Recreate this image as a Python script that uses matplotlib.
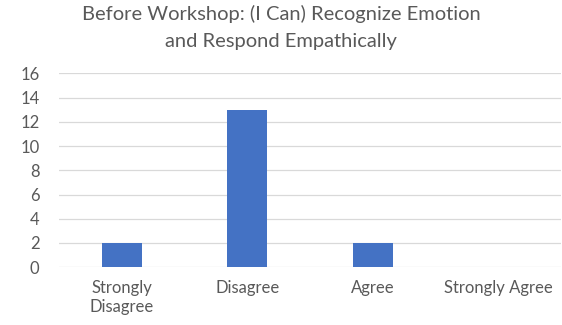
import matplotlib
matplotlib.use('Agg')
import matplotlib.pyplot as plt

categorias = ['Strongly\nDisagree', 'Disagree', 'Agree', 'Strongly Agree']
respostas = [2, 13, 2, 0]
y_ticks = [0, 2, 4, 6, 8, 10, 12, 14, 16]

plt.rcParams['font.family'] = ['Lato', 'DejaVu Sans']
cor_texto = '#595959'

fig = plt.figure(figsize=(5.62, 3.25), dpi=100)
ax = fig.add_axes([0.105, 0.178, 0.893, 0.596])

x = range(len(categorias))
ax.bar(x, respostas, width=0.32, color='#4472C4', zorder=3)

ax.set_xlim(-0.5, len(categorias) - 0.5)
ax.set_ylim(0, 16)
ax.set_yticks(y_ticks)
ax.set_xticks(list(x))
ax.set_xticklabels(categorias, linespacing=1.25)
ax.grid(axis='y', color='#D9D9D9', linewidth=0.9, zorder=0)
for s in ax.spines.values():
    s.set_visible(False)
ax.tick_params(axis='both', length=0, colors=cor_texto, labelsize=12)
ax.tick_params(axis='x', pad=9)
ax.tick_params(axis='y', pad=14)

fig.suptitle('Before Workshop: (I Can) Recognize Emotion\nand Respond Empathically',
             y=0.985, fontsize=14.5, color=cor_texto, linespacing=1.75)

plt.savefig('out.png', dpi=100)
